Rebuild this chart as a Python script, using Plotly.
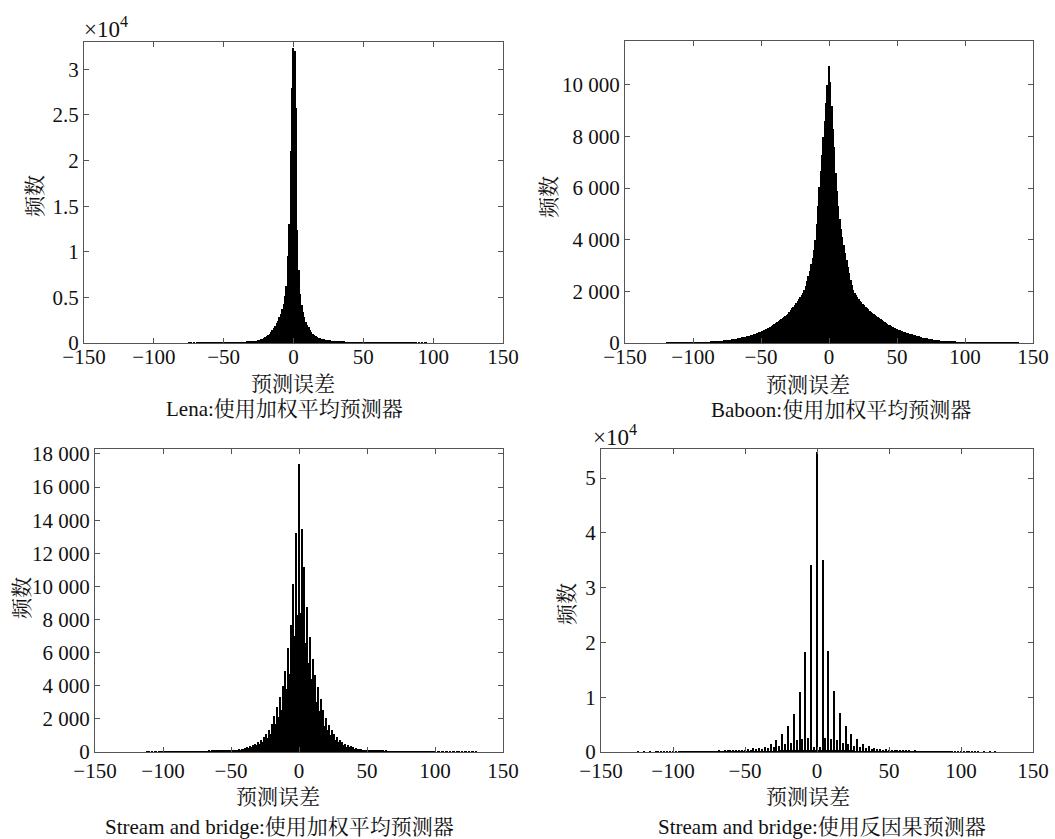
import plotly.graph_objects as go

# ---------------- data ----------------
lena_bins = list(range(-75, 96))
lena_counts = [
    30, 0, 40, 0, 35, 0, 20, 15, 20, 25,
    20, 25, 30, 25, 30, 35, 30, 35, 40, 35,
    40, 45, 40, 45, 50, 50, 55, 55, 60, 60,
    65, 70, 70, 75, 80, 85, 90, 95, 100, 105,
    105, 110, 115, 125, 135, 150, 170, 195, 225, 260,
    300, 350, 410, 480, 560, 650, 760, 880, 1020, 1200,
    1400, 1620, 1870, 2150, 2450, 2800, 3200, 3700, 4300, 5100,
    6300, 9500, 13000, 21000, 28000, 32300, 32000, 25800, 12400, 8000,
    5400, 4200, 3400, 2800, 2350, 2000, 1700, 1420, 1200, 1020,
    880, 760, 660, 580, 510, 460, 420, 390, 370, 340,
    310, 280, 250, 225, 200, 180, 165, 150, 140, 130,
    120, 115, 110, 105, 100, 96, 92, 88, 85, 82,
    80, 78, 76, 74, 72, 70, 68, 66, 64, 62,
    60, 58, 56, 54, 52, 50, 48, 46, 45, 44,
    42, 41, 40, 38, 37, 36, 35, 34, 33, 32,
    31, 30, 29, 28, 27, 26, 25, 24, 23, 22,
    21, 20, 20, 18, 0, 25, 0, 30, 0, 35,
    20,
]

baboon_bins = list(range(-119, 140))
baboon_counts = [
    2, 2, 2, 2, 3, 3, 3, 4, 4, 4,
    5, 5, 6, 6, 7, 7, 8, 8, 9, 10,
    11, 12, 13, 15, 17, 19, 21, 24, 27, 30,
    34, 38, 42, 47, 52, 58, 64, 70, 76, 82,
    88, 95, 100, 104, 110, 118, 126, 134, 142, 150,
    160, 170, 180, 190, 200, 215, 230, 240, 250, 260,
    275, 290, 305, 320, 340, 360, 380, 400, 420, 440,
    465, 490, 515, 540, 565, 590, 620, 650, 690, 730,
    770, 810, 850, 890, 930, 970, 1010, 1060, 1100, 1140,
    1200, 1270, 1340, 1400, 1470, 1540, 1610, 1690, 1770, 1850,
    1950, 2040, 2200, 2400, 2600, 2800, 3050, 3300, 3600, 3980,
    4600, 5300, 6050, 6650, 7300, 8000, 8600, 9300, 10000,
    10750,
    10100, 9200, 8300, 7600, 6600, 5900, 5300, 4800, 4400, 4100,
    3800, 3500, 3200, 2950, 2700, 2450, 2250, 2060, 1950, 1860,
    1780, 1710, 1640, 1580, 1520, 1460, 1400, 1350, 1300, 1250,
    1200, 1160, 1120, 1080, 1040, 1000, 960, 920, 880, 840,
    800, 770, 740, 710, 680, 650, 620, 595, 570, 545,
    520, 500, 480, 460, 440, 420, 400, 380, 360, 345,
    330, 315, 300, 285, 270, 255, 240, 225, 210, 200,
    190, 180, 170, 160, 150, 140, 132, 124, 116, 108,
    102, 96, 90, 84, 78, 72, 67, 62, 57, 52,
    48, 44, 40, 37, 34, 31, 28, 26, 24, 22,
    20, 19, 18, 17, 16, 15, 14, 13, 12, 12,
    11, 11, 10, 10, 9, 9, 8, 8, 8, 7,
    7, 7, 6, 6, 6, 5, 5, 5, 5, 4,
    4, 4, 4, 3, 3, 3, 3, 3, 2,
]

stream_wa_bins = list(range(-112, 131))
stream_wa_counts = [
    20, 0, 25, 0, 30, 0, 25, 30, 0, 35,
    25, 30, 20, 25, 20, 15, 20, 20, 25, 20,
    25, 25, 30, 25, 30, 30, 35, 30, 35, 35,
    40, 35, 40, 40, 45, 40, 45, 50, 45, 50,
    55, 50, 55, 60, 55, 60, 65, 60, 70, 65,
    75, 70, 80, 75, 85, 80, 90, 85, 95, 90,
    110, 95,
    105, 90, 125, 100, 145, 120, 170, 140, 200, 165,
    240, 195, 290, 230, 350, 280, 420, 330, 500, 400,
    610, 480, 740, 580, 900, 700, 1100, 870, 1350, 1080,
    1700, 1350, 2150, 1700, 2700, 2100, 3300, 2550, 4000, 3100,
    4900, 3800, 6300, 4700, 7700, 5800, 10150, 7000, 13200, 8300,
    17400,
    8400, 13450, 7400, 11150, 6600, 8780, 5400, 6950, 4400, 5600,
    3600, 4650, 3000, 3900, 2450, 3200, 2000, 2550, 1600, 2050,
    1300, 1650, 1050, 1350, 860, 1100, 700, 900, 580, 740,
    480, 610, 400, 500, 330, 420, 280, 350, 230, 290,
    195, 240, 165, 200, 140, 170, 120, 145, 100, 125,
    95, 110, 85, 95, 80, 90, 75, 80, 70, 75,
    65, 70, 60, 65, 55, 60, 50, 55, 48, 50,
    45, 48, 42, 45, 40, 42, 38, 40, 35, 38,
    33, 35, 30, 32, 28, 30, 26, 28, 25, 26,
    24, 25, 22, 24, 20, 22, 20, 20, 18, 30,
    0, 25, 20, 0, 30, 25, 0, 25, 30, 0,
    25, 0, 30, 20, 0, 25, 0, 30, 0, 25,
    0, 20, 30, 0, 25, 0, 20, 25, 0, 30,
]

stream_ac_bins = list(range(-125, 126))
stream_ac_counts = [
    0, 40, 0, 0, 0, 30, 0, 0, 0, 35,
    0, 0, 0, 40, 0, 20, 0, 45, 0, 25,
    0, 50, 0, 30, 0, 60, 0, 35, 0, 70,
    0, 40, 10, 80, 10, 50, 10, 90, 15, 60,
    15, 110, 20, 70, 20, 130, 20, 90, 25, 150,
    25, 110, 30, 170, 30, 130, 35, 200, 35, 160,
    40, 230, 40, 190, 45, 270, 45, 230, 50, 320,
    50, 280, 55,
    380, 60, 330, 60, 600, 70, 400, 70, 650, 80,
    500, 80, 800, 90, 600, 100, 1000, 110, 700, 120,
    1500, 140, 900, 160, 2200, 180, 1100, 200, 3300, 230,
    1400, 260, 4700, 300, 1700, 330, 7000, 360, 2100, 380,
    10900, 400, 2400, 420, 18200, 430, 2500, 420, 34200, 300,
    860, 250,
    54700,
    250, 880, 300, 35000, 420, 2500, 430, 18400, 420, 2400,
    400, 11100, 380, 2100, 360, 7200, 330, 1700, 300, 4800,
    260, 1400, 230, 3300, 200, 1100, 180, 2350, 160, 900,
    140, 1500, 120, 700, 110, 1050, 100, 600, 90, 800,
    80, 500, 80, 600, 70, 400, 70, 480, 60, 330,
    60, 380,
    55, 280, 50, 320, 50, 230, 45, 260, 45, 190,
    40, 230, 40, 160, 35, 200, 35, 130, 30, 170,
    30, 110, 25, 150, 25, 90, 20, 130, 20, 70,
    20, 110, 15, 60, 15, 90, 10, 50, 10, 80,
    10, 40, 0, 70, 0, 35, 0, 60, 0, 30,
    0, 50, 0, 25, 0, 45, 0, 20, 0, 40,
    0, 0, 0, 35, 0, 0, 0, 30, 0, 0,
    0, 40, 0,
]

x_tick_vals = [-150, -100, -50, 0, 50, 100, 150]
x_tick_text = ["\u2212150", "\u2212100", "\u221250", "0", "50", "100", "150"]

lena_ytick_vals = [0, 5000, 10000, 15000, 20000, 25000, 30000]
lena_ytick_text = ["0", "0.5", "1", "1.5", "2", "2.5", "3"]
baboon_ytick_vals = [0, 2000, 4000, 6000, 8000, 10000]
baboon_ytick_text = ["0", "2 000", "4 000", "6 000", "8 000", "10 000"]
stream_wa_ytick_vals = [0, 2000, 4000, 6000, 8000, 10000, 12000, 14000, 16000, 18000]
stream_wa_ytick_text = ["0", "2 000", "4 000", "6 000", "8 000", "10 000",
                        "12 000", "14 000", "16 000", "18 000"]
stream_ac_ytick_vals = [0, 10000, 20000, 30000, 40000, 50000]
stream_ac_ytick_text = ["0", "1", "2", "3", "4", "5"]

x_label = "预测误差"
y_label = "频数"
titles = ["Lena:使用加权平均预测器", "Baboon:使用加权平均预测器",
          "Stream and bridge:使用加权平均预测器", "Stream and bridge:使用反因果预测器"]

# ---------------- figure ----------------
W, H = 1055, 839
FONT = "Liberation Serif, Times New Roman, Noto Serif CJK SC, Noto Sans CJK SC, serif"

def px_x(p):
    return p / W

def px_y(p):
    return 1 - p / H

fig = go.Figure()
series = [
    (lena_bins, lena_counts, "x", "y", 1.0),
    (baboon_bins, baboon_counts, "x2", "y2", 1.0),
    (stream_wa_bins, stream_wa_counts, "x3", "y3", 0.85),
    (stream_ac_bins, stream_ac_counts, "x4", "y4", 1.0),
]
for bins, counts, xa, ya, bw in series:
    fig.add_trace(go.Bar(x=bins, y=counts, xaxis=xa, yaxis=ya,
                         marker=dict(color="black", line=dict(width=0)),
                         width=bw, showlegend=False, hoverinfo="x+y"))

axis_common = dict(showline=True, linecolor="#555", linewidth=1, mirror="ticks",
                   ticks="inside", ticklen=5, tickcolor="#555", showgrid=False,
                   zeroline=False, automargin=False,
                   tickfont=dict(family=FONT, size=21, color="#111"))

boxes = [  # (left, right, top, bottom) in px
    (84, 503, 42, 343),
    (625, 1033, 41, 343),
    (95, 503, 449, 752),
    (601, 1033, 449, 752),
]
xlabel_shift = [-5, -5, 0, 0]
yranges = [[0, 33000], [0, 11700], [0, 18300], [0, 55300]]
yticks = [(lena_ytick_vals, lena_ytick_text), (baboon_ytick_vals, baboon_ytick_text),
          (stream_wa_ytick_vals, stream_wa_ytick_text), (stream_ac_ytick_vals, stream_ac_ytick_text)]

layout = dict(template="none", width=W, height=H, margin=dict(l=0, r=0, t=0, b=0, autoexpand=False),
              paper_bgcolor="white", plot_bgcolor="white", bargap=0, showlegend=False,
              font=dict(family=FONT, size=20, color="#111"))
for i, (l, r, t, b) in enumerate(boxes):
    sfx = "" if i == 0 else str(i + 1)
    layout["xaxis" + sfx] = dict(axis_common, domain=[px_x(l), px_x(r)], range=[-150, 150],
                                 tickvals=x_tick_vals, ticktext=x_tick_text,
                                 ticklabelstandoff=xlabel_shift[i],
                                 anchor="y" + sfx)
    layout["yaxis" + sfx] = dict(axis_common, domain=[px_y(b), px_y(t)], range=yranges[i],
                                 tickvals=yticks[i][0], ticktext=yticks[i][1],
                                 anchor="x" + sfx)
fig.update_layout(**layout)

ann = []
def text(x, y, s, angle=0, xanchor="center", size=21):
    ann.append(dict(x=px_x(x), y=px_y(y), xref="paper", yref="paper", text=s,
                    showarrow=False, textangle=angle, xanchor=xanchor, yanchor="middle",
                    font=dict(family=FONT, size=size, color="#111")))

# x-axis labels
text(293, 384, x_label)
text(808, 385, x_label)
text(278, 797, x_label)
text(808, 797, x_label)
# subtitles
text(284, 409, titles[0])
text(841, 410, titles[1])
text(279, 827, titles[2])
text(822, 827, titles[3])
# y-axis labels
text(35, 196, y_label, angle=-90)
text(549, 197, y_label, angle=-90)
text(22, 598, y_label, angle=-90)
text(567, 604, y_label, angle=-90)
# multipliers
text(82, 28, "\u00d710<sup>4</sup>", xanchor="left", size=23)
text(591, 435, "\u00d710<sup>4</sup>", xanchor="left", size=23)

fig.update_layout(annotations=ann)
fig.write_html("out.html")
